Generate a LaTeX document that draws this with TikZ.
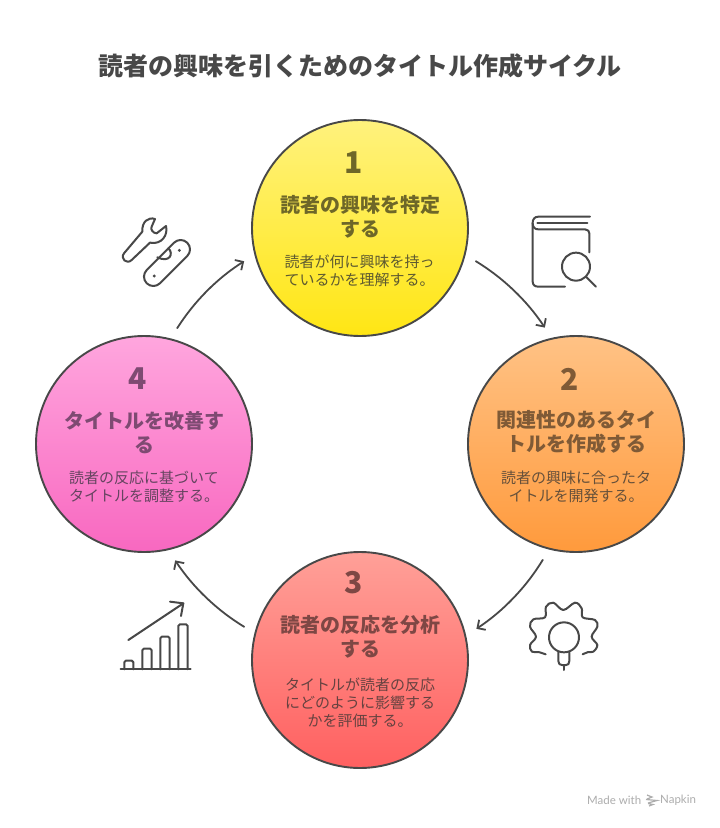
\documentclass[tikz,border=0pt]{standalone}
\usepackage{fontspec}
\setmainfont{Noto Sans CJK JP}
\newfontfamily\latinf{Lato}
\usetikzlibrary{arrows.meta,shadings}
\definecolor{ink}{HTML}{484848}
\tikzset{
  x=1pt,y=-1pt,
  stage/.style={circle,draw=ink,line width=1.9pt,minimum size=216pt,inner sep=0pt,outer sep=12.5pt,shading angle=0},
  num/.style={inner sep=0pt,font=\bfseries\fontsize{30}{32}\selectfont},
  head/.style={inner sep=0pt,align=center,font=\bfseries\fontsize{20}{24}\selectfont},
  body/.style={inner sep=0pt,align=center,font=\fontsize{15}{18}\selectfont},
  link/.style={draw=ink,line width=1.8pt,line cap=round,-{Straight Barb[length=6pt,width=12pt,line width=1.8pt]},bend left=12.6,looseness=.86},
  icon/.style={draw=ink,line width=2pt,line cap=round,line join=round},
}
\begin{document}
\begin{tikzpicture}
\useasboundingbox (0,0) rectangle (720,828);
\fill[white] (0,0) rectangle (720,828);
\node[inner sep=0pt,text=ink,font=\bfseries\fontsize{25}{30}\selectfont] (title) at (360,65.5) {読者の興味を引くためのタイトル作成サイクル};

\node[stage,top color={rgb,255:red,255;green,242;blue,125},bottom color={rgb,255:red,255;green,230;blue,20}] (c1) at (360,228) {};
\node[stage,top color={rgb,255:red,255;green,194;blue,133},bottom color={rgb,255:red,255;green,154;blue,60}] (c2) at (576,444) {};
\node[stage,top color={rgb,255:red,255;green,160;blue,152},bottom color={rgb,255:red,255;green,96;blue,96}] (c3) at (360,660) {};
\node[stage,top color={rgb,255:red,255;green,166;blue,222},bottom color={rgb,255:red,248;green,104;blue,192}] (c4) at (144,444) {};

\definecolor{ty}{HTML}{6E6728}\definecolor{by}{HTML}{5E5A30}
\definecolor{to}{HTML}{7F5A36}\definecolor{bo}{HTML}{66503A}
\definecolor{tr}{HTML}{7E4744}\definecolor{br}{HTML}{664240}
\definecolor{tp}{HTML}{7E4A72}\definecolor{bp}{HTML}{664460}

\node[num,text=ty] (n1) at (353.5,163) {1};
\node[head,text=ty] (h1) at (360,216.5) {読者の興味を特定\\する};
\node[body,text=by] (b1) at (359.5,271) {読者が何に興味を持っ\\ているかを理解する。};

\node[num,text=to] (n2) at (570,379) {2};
\node[head,text=to] (h2) at (576,432.5) {関連性のあるタイ\\トルを作成する};
\node[body,text=bo] (b2) at (576,487) {読者の興味に合ったタ\\イトルを開発する。};

\node[num,text=tr] (n3) at (354,583) {3};
\node[head,text=tr] (h3) at (360,636.5) {読者の反応を分析\\する};
\node[body,text=br] (b3) at (360,703) {タイトルが読者の反応\\にどのように影響する\\かを評価する。};

\node[num,text=tp] (n4) at (138,379) {4};
\node[head,text=tp] (h4) at (144,432.5) {タイトルを改善す\\る};
\node[body,text=bp] (b4) at (144,487) {読者の反応に基づいて\\タイトルを調整する。};

\draw[link] (c1.-16) to (c2.105);
\draw[link] (c2.254) to (c3.15);
\draw[link] (c3.164) to (c4.-75);
\draw[link] (c4.74) to (c1.196);

% tools icon
\begin{scope}[shift={(100,200)},x=.3333pt,y=-.3333pt]
\draw[icon] (165,57) .. controls (145,50) and (125,65) .. (127,95) -- (72,160) .. controls (60,175) and (80,195) .. (95,180) -- (150,128) .. controls (185,135) and (205,105) .. (198,78) -- (170,100) .. controls (160,100) and (150,88) .. (155,80) -- cycle;
\draw[icon,shift={(201,189)},rotate=45,rounded corners=9.3pt] (-86,-28) rectangle (86,28);
\draw[icon] (205,145) .. controls (222,160) and (210,190) .. (172,172);
\fill[ink] (163,228) circle (1.6pt) (238,151) circle (1.6pt);
\end{scope}
% book icon
\begin{scope}[shift={(510,200)},x=.3333pt,y=-.3333pt]
\draw[icon] (240,50) -- (85,50) .. controls (74,50) and (68,58) .. (68,68) -- (68,245) .. controls (68,255) and (75,260) .. (85,260) -- (165,260);
\draw[icon] (82,70) -- (232,70);
\draw[icon] (68,70) .. controls (68,82) and (75,88) .. (85,88) -- (225,88) .. controls (234,88) and (238,94) .. (238,100) -- (238,157);
\draw[icon] (198,200) circle (14pt);
\draw[icon] (228,230) -- (258,260);
\end{scope}
% gear icon
\begin{scope}[shift={(510,590)},x=.3333pt,y=-.3333pt]
\draw[icon] plot[smooth,tension=.6] coordinates {(107,193) (85,186) (66,185) (60,165) (78,140) (60,110) (70,88) (105,82) (108,50) (130,38) (160,60) (195,38) (215,55) (218,82) (255,90) (262,110) (245,140) (262,165) (250,185) (235,186) (218,193)};
\draw[icon] (162,142) circle (15pt);
\draw[icon] (145,187) -- (145,213) .. controls (145,222) and (150,225) .. (156,225) -- (168,225) .. controls (174,225) and (178,222) .. (178,213) -- (178,187);
\draw[icon] (162,225) -- (162,240);
\end{scope}
% chart icon
\begin{scope}[shift={(100,590)},x=.3333pt,y=-.3333pt]
\draw[icon] (62,238) -- (272,238);
\foreach \a/\b/\t in {73/100/212,127/155/176,181/209/140,235/263/103}{
  \draw[icon,rounded corners=1.5pt] (\a,238) -- (\a,\t) -- (\b,\t) -- (\b,238);
}
\draw[icon] (85,150) -- (250,40);
\draw[icon] (210,35) -- (250,40) -- (243,78);
\end{scope}
% watermark
\node[inner sep=0pt,anchor=west,text=black!32,font=\latinf\fontsize{11.5}{13}\selectfont] (mw) at (587,800) {Made with};
\node[inner sep=0pt,anchor=west,text=black!32,font=\latinf\fontsize{11.5}{13}\selectfont] (nk) at (660,800) {Napkin};
\draw[black!32,line width=1.2pt] (647,795) -- (652,797) -- (647,799) (646,799.5) -- (657,800.5) -- (648,803) (648,803.5) -- (653,804.5) -- (649,806);
\end{tikzpicture}
\end{document}
